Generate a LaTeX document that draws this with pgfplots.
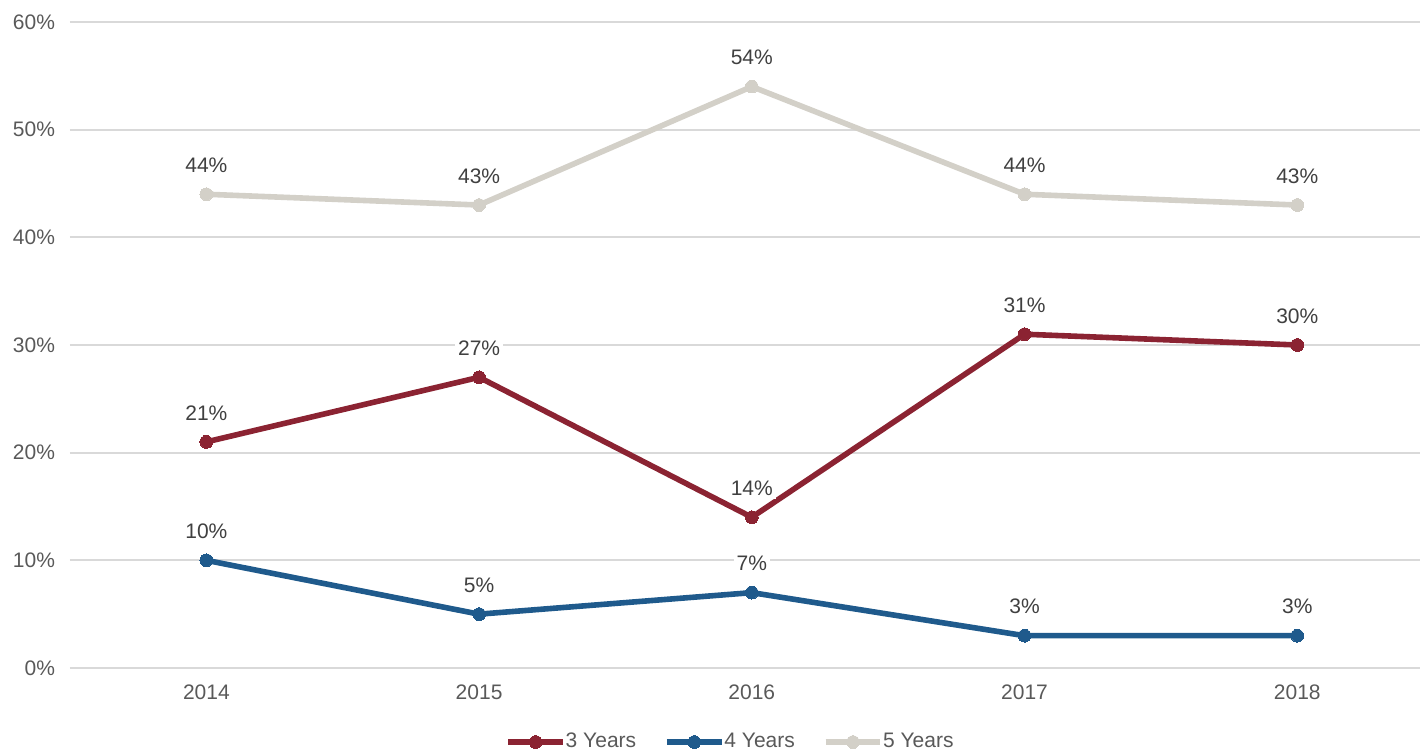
\documentclass[border=0pt]{standalone}
\usepackage{fontspec}
\setmainfont{Liberation Sans}
\usepackage{pgfplots}
\pgfplotsset{compat=1.18}
\definecolor{cRed}{HTML}{8B2332}
\definecolor{cBlue}{HTML}{1F5A8C}
\definecolor{cGray}{HTML}{D3D0C8}
\definecolor{cGrid}{HTML}{D9D9D9}
\definecolor{cTick}{HTML}{595959}
\definecolor{cLab}{HTML}{404040}
\begin{document}
\begin{tikzpicture}
\begin{axis}[
  name=ax,
  scale only axis,
  width=675pt, height=323pt,
  xmin=-0.5, xmax=4.45,
  ymin=0, ymax=60,
  xtick={0,1,2,3,4},
  xticklabels={2014,2015,2016,2017,2018},
  ytick={0,10,20,30,40,50,60},
  yticklabels={0\%,10\%,20\%,30\%,40\%,50\%,60\%},
  ymajorgrids,
  grid style={cGrid, line width=0.9pt},
  axis line style={draw=none},
  major tick length=0pt,
  tick label style={font=\fontsize{10.5}{12}\selectfont, text=cTick},
  yticklabel style={xshift=-4pt},
  xticklabel style={yshift=-5pt},
  /pgf/number format/assume math mode=true,
  nodes near coords={\pgfmathprintnumber{\pgfplotspointmeta}\%},
  every node near coord/.append style={anchor=center, yshift=14.5pt, fill=white, inner sep=1.5pt, text=cLab, font=\fontsize{10.5}{12}\selectfont},
  legend columns=3,
  legend style={draw=none, at={(0.49,-0.1146)}, anchor=center, font=\fontsize{10.5}{12}\selectfont, text=cTick, inner sep=0pt, /tikz/every even column/.append style={column sep=12pt}, /tikz/every odd column/.append style={column sep=-2pt}},
  legend image code/.code={\draw[mark repeat=2,mark phase=2] plot coordinates {(0cm,0cm)(0.48cm,0cm)(0.96cm,0cm)};},
  every axis plot/.append style={line width=2.8pt, mark=*, mark size=3.2pt},
]
\addplot[cRed, mark options={fill=cRed, draw=cRed, line width=0pt}] coordinates {(0,21)(1,27)(2,14)(3,31)(4,30)};
\addlegendentry{3 Years}
\addplot[cBlue, mark options={fill=cBlue, draw=cBlue, line width=0pt}] coordinates {(0,10)(1,5)(2,7)(3,3)(4,3)};
\addlegendentry{4 Years}
\addplot[cGray, mark options={fill=cGray, draw=cGray, line width=0pt}] coordinates {(0,44)(1,43)(2,54)(3,44)(4,43)};
\addlegendentry{5 Years}
\end{axis}
\pgfresetboundingbox
\path ([shift={(-35pt,-42pt)}]ax.south west) rectangle ([shift={(1pt,11pt)}]ax.north east);
\end{tikzpicture}
\end{document}
